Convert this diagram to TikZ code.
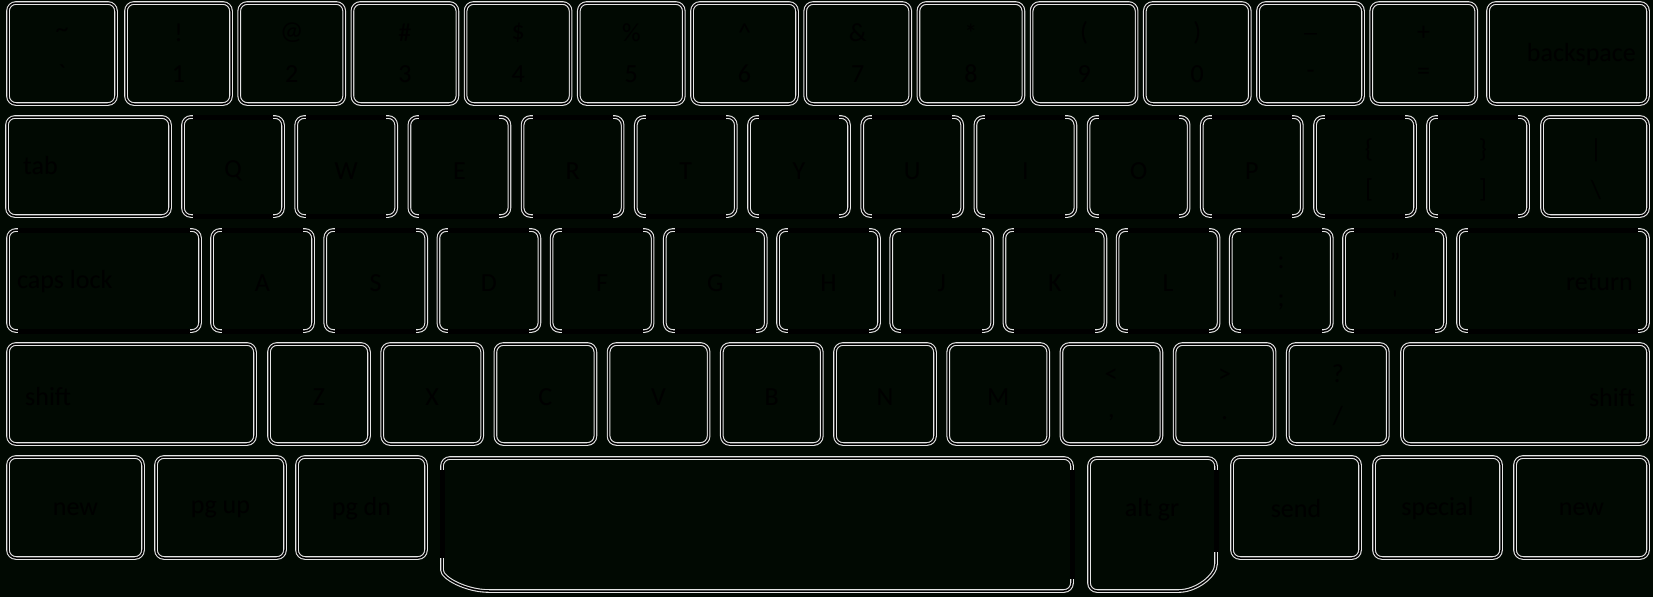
\documentclass[tikz,border=0pt]{standalone}
\usepackage{fontspec}
\setmainfont{Carlito}
\definecolor{bgc}{RGB}{1,9,2}
\definecolor{ringc}{RGB}{228,228,228}
\tikzset{
  keyst/.style={draw=ringc, double=black, double distance=1.5pt, line width=1.1pt,
    rounded corners=8pt, inner sep=0pt, outer sep=0pt},
  hidest/.style={draw=black, line width=5pt},
  lbl/.style={font=\fontsize{26}{30}\selectfont, text=black, inner sep=0pt}
}
\newcommand\kbox[5]{\node[keyst, minimum width={(#4-#2-4)*1pt}, minimum height={(#5-#3-4)*1pt}] (#1) at ({(#2+#4)/2},{(#3+#5)/2}) {};}
\newcommand\khide[5]{\kbox{#1}{#2}{#3}{#4}{#5}\draw[hidest] ({#2+12},{#3+2}) -- ({#4-12},{#3+2}) ({#2+12},{#5-2}) -- ({#4-12},{#5-2});}
\begin{document}
\begin{tikzpicture}[x=1pt,y=-1pt]
\useasboundingbox (0,0) rectangle (1653,597);
\fill[bgc] (0,0) rectangle (1653,597);
% ---------- row 1
\kbox{k0}{6}{1}{118}{106}
\node[lbl] (k0-t) at (62,33) {\textasciitilde};
\node[lbl] (k0-b) at (62,74) {\textasciigrave};
\foreach \t/\b [count=\i from 1] in {{!}/{1},{@}/{2},{\#}/{3},{\$}/{4},{\%}/{5},{\textasciicircum}/{6},{\&}/{7},{*}/{8},{\char40}/{9},{\char41}/{0},{\_}/{-},{+}/{=}}{
  \pgfmathsetmacro\xl{124+113.2*(\i-1)}
  \pgfmathsetmacro\xr{\xl+109}
  \pgfmathsetmacro\xc{\xl+54.5}
  \kbox{k\i}{\xl}{1}{\xr}{106}
  \node[lbl] (k\i-t) at (\xc,33) {\t};
  \node[lbl] (k\i-b) at (\xc,74) {\b};
}
\kbox{bksp}{1486}{1}{1650}{106}
\node[lbl, anchor=east] (bksp-l) at (1636,55) {backspace};
% ---------- row 2
\kbox{tab}{5}{115}{172}{218}
\node[lbl, anchor=west] (tab-l) at (23,166) {tab};
\foreach \t [count=\i from 0] in {Q,W,E,R,T,Y,U,I,O,P}{
  \pgfmathsetmacro\xl{181+113.2*\i}
  \pgfmathsetmacro\xr{\xl+104}
  \pgfmathsetmacro\xc{\xl+52}
  \khide{q\i}{\xl}{115}{\xr}{218}
  \node[lbl] (q\i-l) at (\xc,171) {\t};
}
\khide{lbr}{1313}{115}{1417}{218}
\node[lbl] (lbr-t) at (1369,150) {\{};
\node[lbl] (lbr-b) at (1369,190) {[};
\khide{rbr}{1426}{115}{1530}{218}
\node[lbl] (rbr-t) at (1483,150) {\}};
\node[lbl] (rbr-b) at (1483,190) {]};
\kbox{bsl}{1540}{115}{1650}{218}
\node[lbl] (bsl-t) at (1596,150) {|};
\node[lbl] (bsl-b) at (1596,190) {\textbackslash};
% ---------- row 3
\khide{caps}{6}{228}{202}{333}
\node[lbl, anchor=west] (caps-l) at (17,282) {caps lock};
\foreach \t [count=\i from 0] in {A,S,D,F,G,H,J,K,L}{
  \pgfmathsetmacro\xl{210+113.2*\i}
  \pgfmathsetmacro\xr{\xl+105}
  \pgfmathsetmacro\xc{\xl+52.5}
  \khide{a\i}{\xl}{228}{\xr}{333}
  \node[lbl] (a\i-l) at (\xc,283) {\t};
}
\khide{semi}{1228.8}{228}{1333.8}{333}
\node[lbl] (semi-t) at (1281,263) {:};
\node[lbl] (semi-b) at (1281,302) {;};
\khide{quot}{1342}{228}{1447}{333}
\node[lbl] (quot-t) at (1395,262) {"};
\node[lbl] (quot-b) at (1395,300) {\textquotesingle};
\khide{ret}{1456}{228}{1650}{333}
\node[lbl, anchor=east] (ret-l) at (1633,282) {return};
% ---------- row 4
\kbox{lsh}{6}{342}{257}{446}
\node[lbl, anchor=west] (lsh-l) at (25,397) {shift};
\foreach \t [count=\i from 0] in {Z,X,C,V,B,N,M}{
  \pgfmathsetmacro\xl{267+113.2*\i}
  \pgfmathsetmacro\xr{\xl+104}
  \pgfmathsetmacro\xc{\xl+52}
  \kbox{z\i}{\xl}{342}{\xr}{446}
  \node[lbl] (z\i-l) at (\xc,397) {\t};
}
\kbox{comma}{1059.4}{342}{1163.4}{446}
\node[lbl] (comma-t) at (1111.4,376) {<};
\node[lbl] (comma-b) at (1111.4,418) {,};
\kbox{period}{1172.6}{342}{1276.6}{446}
\node[lbl] (period-t) at (1224.6,376) {>};
\node[lbl] (period-b) at (1224.6,418) {.};
\kbox{slash}{1285.8}{342}{1389.8}{446}
\node[lbl] (slash-t) at (1337.8,374) {?};
\node[lbl] (slash-b) at (1337.8,416) {/};
\kbox{rsh}{1400}{342}{1650}{446}
\node[lbl, anchor=east] (rsh-l) at (1635,398) {shift};
% ---------- row 5
\kbox{newa}{6}{455}{145}{560}
\node[lbl] (newa-l) at (75.5,509) {new};
\kbox{pgup}{154}{455}{287}{560}
\node[lbl] (pgup-l) at (220.5,509) {pg up};
\kbox{pgdn}{295}{455}{428}{560}
\node[lbl] (pgdn-l) at (361.5,509) {pg dn};
% space bar
\draw[keyst] (442,520) |- (1072,458) |- (497,591) .. controls (466,591) and (442,578) .. (442,562) -- cycle;
\draw[hidest] (442,470) -- (442,558) (1072,470) -- (1072,579);
% alt gr
\draw[keyst] (1216,520) |- (1089,458) |- (1171,591) .. controls (1196,591) and (1216,576) .. (1216,556) -- cycle;
\draw[hidest] (1216,470) -- (1216,552);
\node[lbl] (altgr-l) at (1152,510) {alt gr};
\kbox{send}{1230}{455}{1362}{560}
\node[lbl] (send-l) at (1296,509) {send};
\kbox{spec}{1372}{455}{1503}{560}
\node[lbl] (spec-l) at (1437.5,509) {special};
\kbox{newb}{1513}{455}{1650}{560}
\node[lbl] (newb-l) at (1581.5,509) {new};
\end{tikzpicture}
\end{document}
